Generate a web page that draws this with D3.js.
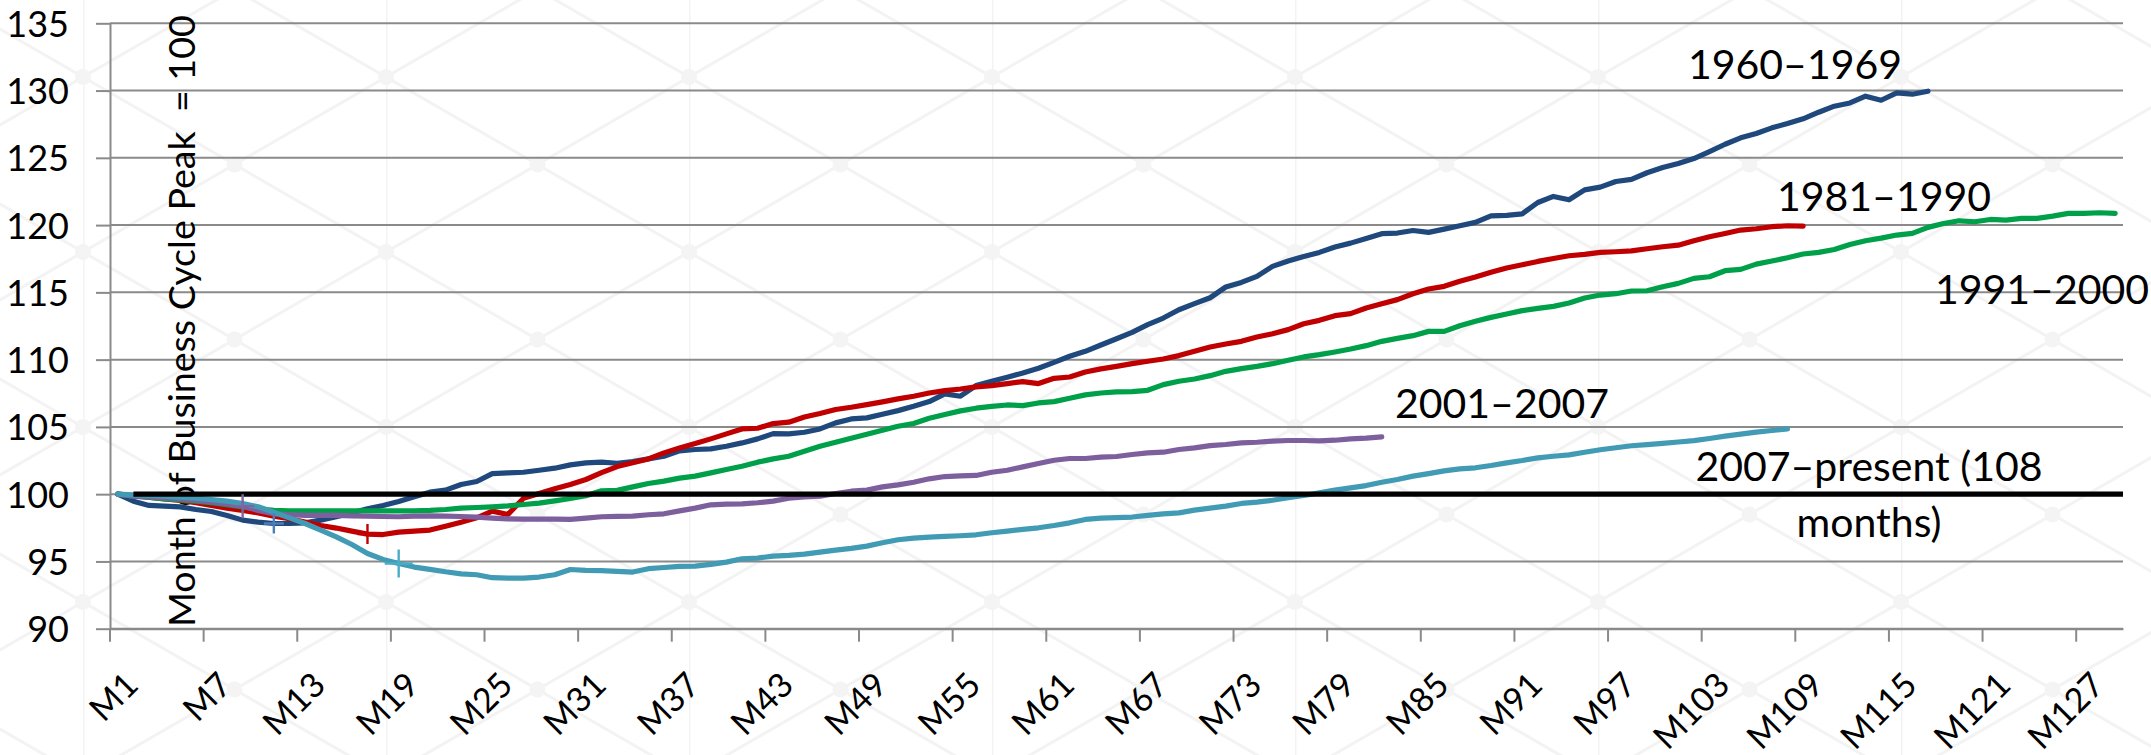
<!DOCTYPE html>
<html>
<head>
<meta charset="utf-8">
<script src="https://cdn.jsdelivr.net/npm/d3@7/dist/d3.min.js"></script>
<style>
  html, body { margin: 0; padding: 0; background: #fff; }
  svg { display: block; font-family: Lato, "Open Sans", sans-serif; }
</style>
</head>
<body>
<svg id="chart" width="2151" height="755"></svg>
<script>
(function () {
    "use strict";

    // categories: months since business cycle peak
    var months = d3.range(1, 130).map(function (i) { return "M" + i; });
    var xTickLabels = ["M1", "M7", "M13", "M19", "M25", "M31", "M37", "M43", "M49", "M55", "M61",
        "M67", "M73", "M79", "M85", "M91", "M97", "M103", "M109", "M115", "M121", "M127"];
    var yTicks = [90, 95, 100, 105, 110, 115, 120, 125, 130, 135];

    // index, month of business cycle peak = 100
    var s1960 = [100, 99.48, 99.16, 99.11, 99.06, 98.86, 98.71, 98.42, 98.07, 97.92,
        97.82, 97.82, 97.87, 98.07, 98.32, 98.61, 98.91, 99.16, 99.46, 99.80,
        100.15, 100.30, 100.72, 100.94, 101.53, 101.58, 101.63, 101.78, 101.93, 102.18,
        102.33, 102.38, 102.30, 102.43, 102.62, 102.82, 103.22, 103.32, 103.37, 103.56,
        103.81, 104.11, 104.50, 104.48, 104.60, 104.85, 105.30, 105.59, 105.67, 105.94,
        106.21, 106.53, 106.88, 107.45, 107.28, 108.07, 108.39, 108.69, 109.01, 109.36,
        109.80, 110.25, 110.62, 111.09, 111.55, 112.03, 112.60, 113.09, 113.71, 114.16,
        114.60, 115.40, 115.74, 116.19, 116.93, 117.33, 117.67, 117.97, 118.37, 118.66,
        119.01, 119.36, 119.41, 119.60, 119.46, 119.70, 119.95, 120.20, 120.69, 120.72,
        120.84, 121.68, 122.13, 121.88, 122.62, 122.82, 123.24, 123.40, 123.89, 124.28,
        124.58, 124.95, 125.47, 126.01, 126.49, 126.81, 127.23, 127.55, 127.90, 128.39,
        128.84, 129.08, 129.58, 129.28, 129.83, 129.73, 129.95];

    var s1981 = [100, 99.90, 99.78, 99.65, 99.53, 99.36, 99.16, 98.96, 98.79, 98.61,
        98.37, 98.17, 97.92, 97.67, 97.48, 97.25, 97.03, 97.00, 97.18, 97.25,
        97.33, 97.62, 97.92, 98.24, 98.74, 98.49, 99.70, 100.05, 100.40, 100.72,
        101.09, 101.60, 102.05, 102.33, 102.62, 103.07, 103.44, 103.76, 104.11, 104.48,
        104.85, 104.90, 105.25, 105.35, 105.74, 105.99, 106.29, 106.46, 106.66, 106.86,
        107.08, 107.28, 107.52, 107.70, 107.82, 107.97, 108.07, 108.22, 108.37, 108.22,
        108.61, 108.71, 109.08, 109.31, 109.50, 109.70, 109.88, 110.05, 110.30, 110.62,
        110.94, 111.16, 111.36, 111.68, 111.93, 112.23, 112.67, 112.92, 113.27, 113.42,
        113.84, 114.16, 114.46, 114.90, 115.25, 115.45, 115.82, 116.14, 116.49, 116.81,
        117.05, 117.30, 117.52, 117.72, 117.82, 117.97, 118.02, 118.08, 118.24, 118.39,
        118.51, 118.84, 119.13, 119.38, 119.63, 119.73, 119.88, 119.95, 119.93];

    var s1991 = [100, 99.85, 99.75, 99.65, 99.58, 99.48, 99.36, 99.21, 99.06, 98.91,
        98.79, 98.76, 98.76, 98.76, 98.76, 98.76, 98.76, 98.76, 98.76, 98.76,
        98.79, 98.86, 98.96, 99.01, 99.06, 99.13, 99.23, 99.33, 99.50, 99.68,
        99.88, 100.25, 100.28, 100.54, 100.79, 100.97, 101.19, 101.34, 101.58, 101.83,
        102.08, 102.38, 102.62, 102.82, 103.19, 103.56, 103.86, 104.16, 104.46, 104.75,
        105.05, 105.25, 105.64, 105.92, 106.19, 106.39, 106.53, 106.63, 106.58, 106.78,
        106.88, 107.13, 107.38, 107.52, 107.60, 107.62, 107.72, 108.14, 108.39, 108.56,
        108.81, 109.13, 109.33, 109.50, 109.70, 109.95, 110.20, 110.37, 110.57, 110.79,
        111.04, 111.36, 111.58, 111.78, 112.10, 112.10, 112.52, 112.85, 113.14, 113.39,
        113.64, 113.81, 113.96, 114.21, 114.58, 114.80, 114.90, 115.10, 115.12, 115.42,
        115.67, 116.04, 116.16, 116.61, 116.71, 117.10, 117.33, 117.57, 117.85, 117.97,
        118.19, 118.56, 118.84, 119.03, 119.26, 119.38, 119.83, 120.12, 120.32, 120.25,
        120.42, 120.37, 120.50, 120.50, 120.67, 120.87, 120.87, 120.92, 120.87];

    var s2001 = [100, 99.85, 99.80, 99.73, 99.65, 99.53, 99.43, 99.28, 99.11, 98.79,
        98.54, 98.47, 98.42, 98.42, 98.42, 98.39, 98.37, 98.34, 98.32, 98.37,
        98.39, 98.37, 98.34, 98.29, 98.22, 98.17, 98.14, 98.14, 98.14, 98.12,
        98.22, 98.32, 98.35, 98.37, 98.47, 98.54, 98.76, 98.96, 99.21, 99.26,
        99.28, 99.36, 99.48, 99.70, 99.80, 99.85, 100.05, 100.22, 100.30, 100.54,
        100.69, 100.89, 101.14, 101.31, 101.36, 101.39, 101.63, 101.78, 102.03, 102.28,
        102.52, 102.65, 102.65, 102.75, 102.80, 102.95, 103.07, 103.12, 103.32, 103.44,
        103.61, 103.69, 103.81, 103.86, 103.94, 103.99, 103.99, 103.96, 104.01, 104.11,
        104.16, 104.26];

    var s2007 = [100, 99.95, 99.90, 99.85, 99.78, 99.70, 99.60, 99.48, 99.31, 99.06,
        98.66, 98.24, 97.82, 97.33, 96.83, 96.26, 95.59, 95.15, 94.85, 94.58,
        94.41, 94.23, 94.08, 94.01, 93.79, 93.76, 93.76, 93.84, 94.01, 94.40,
        94.33, 94.31, 94.26, 94.21, 94.46, 94.55, 94.63, 94.65, 94.78, 94.95,
        95.20, 95.25, 95.40, 95.45, 95.54, 95.69, 95.84, 95.97, 96.14, 96.39,
        96.61, 96.73, 96.81, 96.86, 96.91, 96.98, 97.13, 97.25, 97.38, 97.50,
        97.67, 97.87, 98.12, 98.22, 98.25, 98.30, 98.42, 98.54, 98.61, 98.81,
        98.96, 99.11, 99.31, 99.41, 99.55, 99.73, 99.90, 100.10, 100.30, 100.47,
        100.64, 100.89, 101.09, 101.34, 101.53, 101.73, 101.88, 101.96, 102.13, 102.33,
        102.50, 102.70, 102.82, 102.92, 103.12, 103.30, 103.45, 103.60, 103.68, 103.78,
        103.88, 103.98, 104.14, 104.31, 104.46, 104.61, 104.73, 104.85];

    // month of recession trough for each cycle (marked with a cross)
    var troughs = [
        { series: "1960", month: "M11", color: "#4A7EBB", size: 20 },
        { series: "1981", month: "M17", color: "#C00000", size: 20 },
        { series: "2001", month: "M9", color: "#8064A2", size: 24 },
        { series: "2007", month: "M19", color: "#4BACC6", size: 28 }
    ];

    var series = [
        { key: "1960", values: s1960, color: "#1F497D" },
        { key: "1981", values: s1981, color: "#C00000" },
        { key: "1991", values: s1991, color: "#00A04A" },
        { key: "2001", values: s2001, color: "#7E5F9E" },
        { key: "2007", values: s2007, color: "#419BB5" }
    ];

    var labels = [
        { lines: ["1960\u20131969"], x: 1688, y: 79, anchor: "start" },
        { lines: ["1981\u20131990"], x: 1777, y: 211, anchor: "start" },
        { lines: ["1991\u20132000"], x: 1935, y: 304, anchor: "start" },
        { lines: ["2001\u20132007"], x: 1395, y: 418, anchor: "start" },
        { lines: ["2007\u2013present (108", "months)"], x: 1869, y: 481, anchor: "middle" }
    ];

    var config = {
        width: 2151,
        height: 755,
        left: 110,
        right: 2123,
        top: 23.3,
        bottom: 628.7,
        grid: "#8A8A8A"
    };

    var svg = d3.select("#chart");

    // faint watermark lattice in the background
    var pat = svg.append("defs").append("pattern")
        .attr("id", "wm")
        .attr("patternUnits", "userSpaceOnUse")
        .attr("width", 303)
        .attr("height", 175)
        .attr("patternTransform", "translate(83,77)");
    pat.append("path")
        .attr("d", "M0,0L303,175M0,175L303,0M0,0V175")
        .attr("fill", "none")
        .attr("stroke", "#f3f3f3")
        .attr("stroke-width", 3);
    pat.selectAll("circle")
        .data([[0, 0], [303, 0], [0, 175], [303, 175], [151.5, 87.5]])
        .enter().append("circle")
        .attr("cx", function (d) { return d[0]; })
        .attr("cy", function (d) { return d[1]; })
        .attr("r", 8)
        .attr("fill", "#f4f4f4");
    svg.append("rect")
        .attr("width", config.width)
        .attr("height", config.height)
        .attr("fill", "url(#wm)");

    var x = d3.scaleBand().domain(months).range([config.left, config.right]);
    var bw = x.bandwidth();
    function cx(m) { return x(m) + bw / 2; }

    var y = d3.scaleLinear().domain([90, 135]).range([config.bottom, config.top]);

    // horizontal gridlines
    svg.append("g")
        .selectAll("line")
        .data(yTicks)
        .enter().append("line")
        .attr("x1", config.left)
        .attr("x2", config.right)
        .attr("y1", function (d) { return y(d); })
        .attr("y2", function (d) { return y(d); })
        .attr("stroke", config.grid)
        .attr("stroke-width", 2);

    // y axis
    var yAxis = svg.append("g")
        .attr("transform", "translate(" + config.left + ",0)")
        .call(d3.axisLeft(y).tickValues(yTicks).tickSize(14).tickSizeOuter(0).tickPadding(27));
    yAxis.select(".domain").attr("stroke", config.grid).attr("stroke-width", 2);
    yAxis.selectAll(".tick line").attr("stroke", config.grid).attr("stroke-width", 2);
    yAxis.selectAll(".tick text")
        .attr("font-family", "Lato")
        .attr("font-size", 36)
        .attr("fill", "#000")
        .attr("dy", "0.36em");

    // x axis: ticks on category boundaries, labels on category centres
    var xAxis = svg.append("g")
        .attr("transform", "translate(0," + config.bottom + ")")
        .call(d3.axisBottom(x).tickValues(xTickLabels).tickSize(13).tickSizeOuter(0));
    xAxis.select(".domain").attr("stroke", config.grid).attr("stroke-width", 2);
    xAxis.selectAll(".tick line")
        .attr("x1", -bw / 2)
        .attr("x2", -bw / 2)
        .attr("stroke", config.grid)
        .attr("stroke-width", 2);
    xAxis.selectAll(".tick text")
        .attr("font-family", "Lato")
        .attr("font-size", 34)
        .attr("fill", "#000")
        .attr("x", 0)
        .attr("y", 0)
        .attr("dy", "0.72em")
        .attr("text-anchor", "end")
        .attr("transform", "translate(5,41) rotate(-45)");

    // axis title, sized so it runs from the bottom of the plot nearly to the top edge
    var title = svg.append("text")
        .attr("transform", "translate(195,627) rotate(-90)")
        .attr("font-size", 40)
        .attr("fill", "#000")
        .style("white-space", "pre")
        .text("Month of Business Cycle Peak  = 100");
    var tLen = title.node().getComputedTextLength();
    if (tLen > 0) title.attr("font-size", 40 * 612 / tLen);

    // series lines
    var line = d3.line()
        .x(function (d, i) { return cx(months[i]); })
        .y(function (d) { return y(d); });

    svg.append("g")
        .selectAll("path")
        .data(series)
        .enter().append("path")
        .attr("d", function (d) { return line(d.values); })
        .attr("fill", "none")
        .attr("stroke", function (d) { return d.color; })
        .attr("stroke-width", 5.2)
        .attr("stroke-linejoin", "round")
        .attr("stroke-linecap", "round");

    // reference line at peak level = 100
    svg.append("line")
        .attr("x1", cx("M2"))
        .attr("x2", x.range()[1])
        .attr("y1", y(100))
        .attr("y2", y(100))
        .attr("stroke", "#000")
        .attr("stroke-width", 5.2);

    // trough markers
    var byKey = {};
    series.forEach(function (s) { byKey[s.key] = s.values; });
    svg.append("g")
        .selectAll("path")
        .data(troughs)
        .enter().append("path")
        .attr("transform", function (d) {
            var v = byKey[d.series][months.indexOf(d.month)];
            return "translate(" + cx(d.month) + "," + y(v) + ")";
        })
        .attr("d", function (d) {
            var h = d.size / 2;
            return "M" + (-h) + ",0H" + h + "M0," + (-h) + "V" + h;
        })
        .attr("fill", "none")
        .attr("stroke", function (d) { return d.color; })
        .attr("stroke-width", 2.4);

    // series labels
    var lab = svg.append("g")
        .attr("font-size", 41)
        .attr("fill", "#000")
        .selectAll("text")
        .data(labels)
        .enter().append("text")
        .attr("text-anchor", function (d) { return d.anchor; })
        .attr("x", function (d) { return d.x; })
        .attr("y", function (d) { return d.y; });
    lab.selectAll("tspan")
        .data(function (d) { return d.lines.map(function (l) { return { t: l, x: d.x }; }); })
        .enter().append("tspan")
        .attr("x", function (d) { return d.x; })
        .attr("dy", function (d, i) { return i === 0 ? 0 : 56; })
        .text(function (d) { return d.t; });
})();
</script>
</body>
</html>
